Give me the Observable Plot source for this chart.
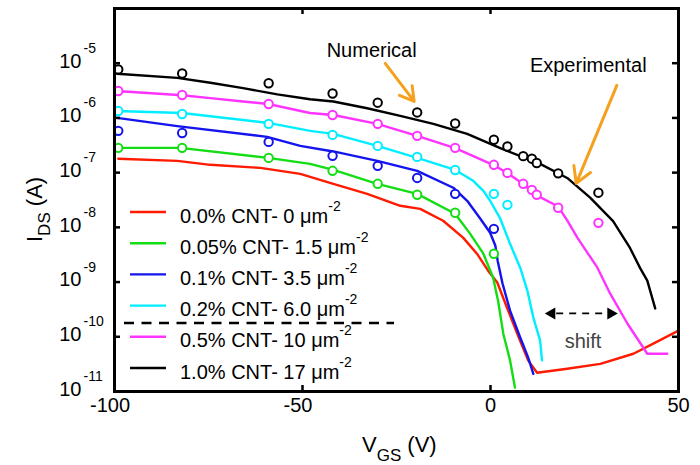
<!DOCTYPE html>
<html><head><meta charset="utf-8">
<script src="https://cdn.jsdelivr.net/npm/d3@7"></script>
<script src="https://cdn.jsdelivr.net/npm/@observablehq/plot@0.6"></script>
<style>
body{margin:0;background:#fff;}
#chart{width:700px;height:465px;}
</style>
</head><body><div id="chart"></div>
<script>
// ---------- data ----------
const seriesNames = ["0.0%", "0.05%", "0.1%", "0.2%", "0.5%", "1.0%"];
const legendLabels = ["0.0% CNT- 0 \u03bcm", "0.05% CNT- 1.5 \u03bcm", "0.1% CNT- 3.5 \u03bcm", "0.2% CNT- 6.0 \u03bcm", "0.5% CNT- 10 \u03bcm", "1.0% CNT- 17 \u03bcm"];
const legendSup = "-2";
const xTicks = [-100, -50, 0, 50];
const yTicks = [1e-5, 1e-6, 1e-7, 1e-8, 1e-9, 1e-10, 1e-11];
const yTickExp = ["-5", "-6", "-7", "-8", "-9", "-10", "-11"];

// Numerical curves: V_GS (V) and I_DS (A)
const numV_00 = [-99.0, -83.3, -74.5, -61.2, -50.6, -41.8, -32.8, -24.0, -18.7, -12.6, -7.3, -3.6, -0.6, 1.8, 4.4, 7.1, 10.0, 12.4, 20.4, 29.2, 38.0, 43.3, 50];
const numI_00 = [1.79e-7, 1.64e-7, 1.39e-7, 1.22e-7, 9.5e-8, 6.25e-8, 4.1e-8, 2.48e-8, 2.18e-8, 1.32e-8, 6.5e-9, 3.3e-9, 1.6e-9, 9.8e-10, 3.4e-10, 1.14e-10, 3.7e-11, 2.2e-11, 2.6e-11, 3.2e-11, 4.9e-11, 7.5e-11, 1.3e-10];
const numV_005 = [-99.3, -82.5, -59.1, -48.0, -41.8, -30.1, -19.5, -9.4, -5.4, -1.9, 0.7, 2.0, 3.4, 5.2, 6.5];
const numI_005 = [2.84e-7, 2.84e-7, 1.86e-7, 1.45e-7, 1.12e-7, 6.25e-8, 4.1e-8, 1.77e-8, 7.6e-9, 3.3e-9, 1.2e-9, 4.6e-10, 1.14e-10, 3.7e-11, 1.18e-11];
const numV_01 = [-99.3, -83.3, -59.4, -50.6, -41.8, -30.1, -19.5, -9.9, -6.2, -2.7, -0.1, 1.3, 1.9, 3.2, 5.2, 7.9, 10.0, 11.4];
const numI_01 = [1.0e-6, 7.1e-7, 4.5e-7, 3.08e-7, 2.44e-7, 1.64e-7, 1.08e-7, 5.3e-8, 3.06e-8, 1.44e-8, 7.96e-9, 4.6e-9, 2.46e-9, 9.4e-10, 3.0e-10, 9.7e-11, 4.2e-11, 2.1e-11];
const numV_02 = [-99.3, -82.0, -59.1, -48.0, -41.8, -30.1, -19.5, -9.4, -4.6, -1.9, -0.1, 2.6, 5.2, 7.9, 9.8, 11.4, 13.2, 13.7];
const numI_02 = [1.34e-6, 1.23e-6, 8.1e-7, 5.8e-7, 5.1e-7, 3.08e-7, 1.86e-7, 1.12e-7, 7.1e-8, 4.65e-8, 3.06e-8, 1.44e-8, 5.0e-9, 1.83e-9, 7.0e-10, 2.24e-10, 8.5e-11, 3.7e-11];
const numV_05 = [-99.5, -82.0, -74.5, -65.8, -59.1, -48.0, -41.8, -30.1, -19.5, -9.4, 0.7, 4.4, 8.7, 12.4, 18.0, 20.4, 23.1, 25.7, 28.4, 31.8, 36.4, 41.7, 47.0];
const numI_05 = [3.1e-6, 2.6e-6, 2.3e-6, 2.0e-6, 1.8e-6, 1.23e-6, 1.13e-6, 7.8e-7, 4.7e-7, 2.8e-7, 1.39e-7, 9.9e-8, 6.2e-8, 3.8e-8, 2.4e-8, 1.34e-8, 6.5e-9, 3.5e-9, 1.85e-9, 6.2e-10, 1.75e-10, 4.9e-11, 4.9e-11];
const numV_10 = [-99.3, -83.3, -74.5, -65.8, -56.7, -48.0, -41.8, -32.8, -24.0, -15.2, -6.2, 2.6, 13.2, 20.4, 26.5, 32.6, 37.1, 39.8, 41.7, 43.8];
const numI_10 = [6.4e-6, 5.4e-6, 4.4e-6, 3.5e-6, 2.7e-6, 2.2e-6, 2.0e-6, 1.5e-6, 1.09e-6, 7.8e-7, 5.1e-7, 2.8e-7, 1.45e-7, 8.0e-8, 3.5e-8, 1.3e-8, 4.2e-9, 1.8e-9, 1.06e-9, 3.3e-10];

// Experimental points: shared V_GS values, I_DS per series
const expV = [-99, -82, -59, -42, -30, -19.5, -9.4, 0.9, 4.5, 8.7, 11, 12.3, 18, 28.7];
const expI_00 = [];
const expI_005 = [2.84e-7, 2.84e-7, 1.86e-7, 1.08e-7, 6.25e-8, 3.94e-8, 1.85e-8, 3.3e-9];
const expI_01 = [5.8e-7, 5.3e-7, 3.65e-7, 2.03e-7, 1.33e-7, 8.0e-8, 4.1e-8, 9.4e-9];
const expI_02 = [1.34e-6, 1.18e-6, 7.8e-7, 4.9e-7, 3.08e-7, 1.94e-7, 1.12e-7, 4.1e-8, 2.58e-8];
const expI_05 = [3.11e-6, 2.63e-6, 1.80e-6, 1.13e-6, 7.8e-7, 4.7e-7, 2.84e-7, 1.39e-7, 9.9e-8, 6.25e-8, 4.85e-8, 3.94e-8, 2.28e-8, 1.21e-8];
const expI_10 = [7.7e-6, 6.5e-6, 4.3e-6, 2.8e-6, 1.9e-6, 1.26e-6, 7.9e-7, 4.0e-7, 3.0e-7, 2.0e-7, 1.8e-7, 1.5e-7, 9.7e-8, 4.3e-8];

// ---------- styles ----------
const colors = ["#ff1a00", "#14dd14", "#1414ee", "#00eeff", "#ff33ff", "#000000"];
const FONT = "'Liberation Sans', Arial, Helvetica, sans-serif";
const ORANGE = "#f5a11e";

// ---------- tables ----------
const numV = [numV_00, numV_005, numV_01, numV_02, numV_05, numV_10];
const numI = [numI_00, numI_005, numI_01, numI_02, numI_05, numI_10];
const expI = [expI_00, expI_005, expI_01, expI_02, expI_05, expI_10];
const curves = seriesNames.map((s, k) => numV[k].map((v, i) => ({s, V: v, I: numI[k][i]})));
const points = seriesNames.map((s, k) => expI[k].map((y, i) => ({s, V: expV[i], I: y})));

const W = 700, H = 465, mL = 114, mR = 22, mT = 8, mB = 74;
const plotW = W - mL - mR, plotH = H - mT - mB;
const innerTicksY = yTicks.slice(0, 6);
const innerTicksX = [-50, 0];

const plot = Plot.plot({
  width: W, height: H,
  marginLeft: mL, marginRight: mR, marginTop: mT, marginBottom: mB,
  style: {fontFamily: FONT, fontSize: "20px", background: "white", color: "black"},
  x: {domain: [-100, 50], axis: null},
  y: {type: "log", domain: [1e-11, 1e-4], axis: null},
  marks: [
    ...curves.map((c, k) => Plot.line(c, {x: "V", y: "I", stroke: colors[k], strokeWidth: 2.4, clip: true})),
    ...points.map((p, k) => Plot.dot(p, {x: "V", y: "I", r: 4.2, stroke: colors[k], strokeWidth: 2, fill: "white"})),
    // inward ticks
    Plot.tickY(innerTicksY, {y: d => d, insetRight: plotW - 6, stroke: "black", strokeWidth: 2.5}),
    Plot.tickY(innerTicksY, {y: d => d, insetLeft: plotW - 6, stroke: "black", strokeWidth: 2.5}),
    Plot.tickX(innerTicksX, {x: d => d, insetTop: plotH - 6, stroke: "black", strokeWidth: 2.5}),
    Plot.tickX(innerTicksX, {x: d => d, insetBottom: plotH - 6, stroke: "black", strokeWidth: 2.5}),
    Plot.frame({stroke: "black", strokeWidth: 3}),
    // tick labels
    Plot.text(xTicks.filter(d => d < 0), {x: d => d, frameAnchor: "bottom", text: d => String(d), dy: 20, dx: -4.5, fontSize: 20}),
    Plot.text(xTicks.filter(d => d >= 0), {x: d => d, frameAnchor: "bottom", text: d => String(d), dy: 20, fontSize: 20}),
    Plot.text(yTicks, {y: d => d, frameAnchor: "left", text: () => "10", textAnchor: "end", dx: -33, dy: -2, fontSize: 20}),
    Plot.text(yTicks, {y: d => d, frameAnchor: "left", text: (d, i) => yTickExp[i], textAnchor: "start", dx: -31, dy: -15, fontSize: 14}),
    // annotations
    Plot.text(["Numerical"], {x: -31.6, y: 1.67e-5, text: d => d, fontSize: 20}),
    Plot.text(["Experimental"], {x: 26.0, y: 8.9e-6, text: d => d, fontSize: 20}),
    Plot.text(["shift"], {x: 24.6, y: 8.3e-11, text: d => d, fontSize: 20, fill: "#444"}),
    Plot.arrow([0], {x1: -28.0, y1: 9.9e-6, x2: -20.3, y2: 2.0e-6, stroke: ORANGE, strokeWidth: 3, headLength: 9}),
    Plot.arrow([0], {x1: 33.6, y1: 3.93e-6, x2: 22.8, y2: 6.35e-8, stroke: ORANGE, strokeWidth: 3, headLength: 9}),
    Plot.ruleY([2.67e-10], {y: d => d, x1: 17.6, x2: 30.7, stroke: "black", strokeWidth: 1.8, strokeDasharray: "7,6"}),
    Plot.dot([{x: 16.3, r: -90}, {x: 32.0, r: 90}], {x: "x", y: () => 2.67e-10, rotate: "r", symbol: "triangle", r: 4.5, fill: "black", stroke: "none"})
  ]
});

const svg = d3.select(plot);
// axis titles
const xt = svg.append("text").attr("x", 362).attr("y", 452).attr("font-size", 22).attr("fill", "black")
  .attr("font-family", FONT).attr("text-anchor", "start");
xt.append("tspan").text("V");
xt.append("tspan").attr("font-size", 17).attr("dy", 9).text("GS");
xt.append("tspan").attr("dy", -9).text(" (V)");

const yt = svg.append("text").attr("transform", "translate(42,242) rotate(-90)").attr("font-size", 22).attr("fill", "black")
  .attr("font-family", FONT).attr("text-anchor", "start");
yt.append("tspan").text("I");
yt.append("tspan").attr("font-size", 17).attr("dy", 8).text("DS");
yt.append("tspan").attr("dy", -8).text(" (A)");

// legend
const lg = svg.append("g").attr("font-size", 20).attr("font-family", FONT).attr("fill", "black").attr("text-anchor", "start");
legendLabels.forEach((label, i) => {
  const y = 212 + 31.2 * i;
  lg.append("line").attr("x1", 130).attr("x2", 166).attr("y1", y).attr("y2", y)
    .attr("stroke", colors[i]).attr("stroke-width", 2.4);
  const t = lg.append("text").attr("x", 180).attr("y", y + 10.5);
  t.append("tspan").text(label);
  t.append("tspan").attr("font-size", 14).attr("dy", -12).text(legendSup);
});
lg.append("line").attr("x1", 124).attr("x2", 394).attr("y1", 323).attr("y2", 323)
  .attr("stroke", "black").attr("stroke-width", 2.4).attr("stroke-dasharray", "10,7.5");

document.getElementById("chart").appendChild(plot);
</script>
</body></html>
